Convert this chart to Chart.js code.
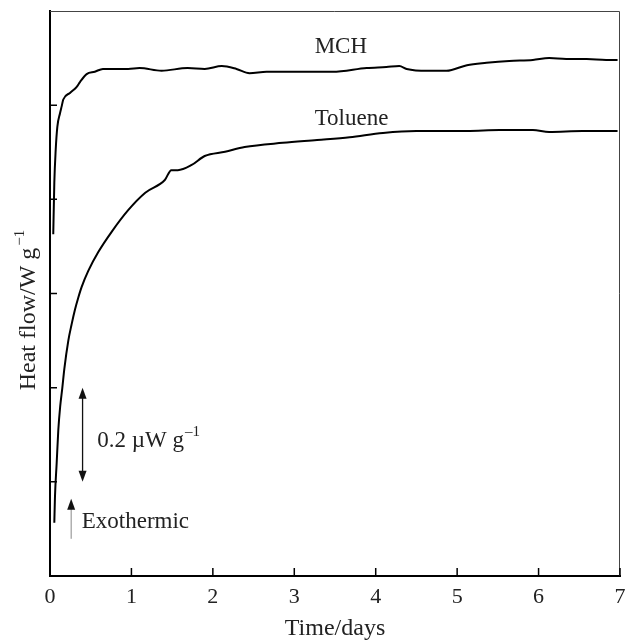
<!DOCTYPE html>
<html>
<head>
<meta charset="utf-8">
<script src="https://cdn.jsdelivr.net/npm/chart.js@4.4.1/dist/chart.umd.min.js"></script>
<style>
  html, body { margin: 0; padding: 0; background: #fff; }
  #grafico { display: block; }
</style>
</head>
<body>
<canvas id="grafico" width="627" height="641"></canvas>
<script>
//Dados (tempo em dias, fluxo em uW/g com origem arbitraria)
//MCH
const diasMCH = [0.040, 0.053, 0.070, 0.090, 0.123, 0.144, 0.163, 0.245, 0.328, 0.368, 0.45, 0.55, 0.65, 0.96, 1.10, 1.37, 1.69, 1.90, 2.11, 2.29, 2.45, 2.66, 3.07, 3.47, 3.89, 4.13, 4.29, 4.38, 4.63, 4.87, 5.12, 5.36, 5.64, 5.93, 6.13, 6.34, 6.59, 6.83, 6.97];
const fluxoMCH = [0.726, 0.835, 0.905, 0.954, 0.983, 0.998, 1.012, 1.026, 1.039, 1.049, 1.066, 1.071, 1.077, 1.077, 1.079, 1.073, 1.079, 1.077, 1.083, 1.077, 1.068, 1.071, 1.071, 1.071, 1.079, 1.081, 1.083, 1.077, 1.073, 1.073, 1.085, 1.090, 1.094, 1.096, 1.100, 1.098, 1.098, 1.096, 1.096];
//Tolueno
const diasTolueno = [0.053, 0.061, 0.082, 0.102, 0.125, 0.151, 0.176, 0.225, 0.266, 0.307, 0.347, 0.389, 0.47, 0.593, 0.757, 0.96, 1.17, 1.41, 1.49, 1.57, 1.74, 1.90, 2.15, 2.39, 2.86, 3.28, 3.68, 4.09, 4.50, 5.12, 5.52, 5.93, 6.13, 6.54, 6.97];
const fluxoTolueno = [0.113, 0.168, 0.240, 0.310, 0.360, 0.399, 0.440, 0.500, 0.535, 0.566, 0.591, 0.614, 0.648, 0.688, 0.731, 0.777, 0.814, 0.841, 0.862, 0.862, 0.873, 0.892, 0.901, 0.911, 0.920, 0.926, 0.932, 0.941, 0.945, 0.945, 0.947, 0.947, 0.943, 0.945, 0.945];

//Ticks dos eixos
const ticksX = [0, 1, 2, 3, 4, 5, 6, 7];
const ticksY = [0.2, 0.4, 0.6, 0.8, 1.0];

const FONTE = "'Liberation Serif', 'Times New Roman', serif";

function pontos(xs, ys) {
  return xs.map((v, i) => ({ x: v, y: ys[i] }));
}

//Desenha a ponta de uma seta (dir = -1 para cima, 1 para baixo)
function ponta(ctx, x, y, dir) {
  ctx.beginPath();
  ctx.moveTo(x, y);
  ctx.lineTo(x - 4, y - dir * 11);
  ctx.lineTo(x + 4, y - dir * 11);
  ctx.closePath();
  ctx.fill();
}

//Plugin com moldura, ticks internos, titulo do eixo y e anotacoes
const extras = {
  id: "extras",
  afterDraw(chart) {
    const { ctx, chartArea: a, scales: { x, y } } = chart;
    ctx.save();

    //moldura de cima e da direita
    ctx.strokeStyle = "#444";
    ctx.lineWidth = 1;
    ctx.beginPath();
    ctx.moveTo(a.left, a.top + 0.5);
    ctx.lineTo(a.right - 0.5, a.top + 0.5);
    ctx.lineTo(a.right - 0.5, a.bottom);
    ctx.stroke();

    //ticks para dentro
    ctx.strokeStyle = "#000";
    ctx.lineWidth = 1.5;
    ctx.beginPath();
    ticksX.forEach((v) => {
      const px = x.getPixelForValue(v);
      ctx.moveTo(px, a.bottom);
      ctx.lineTo(px, a.bottom - 8);
    });
    ticksY.forEach((v) => {
      const py = y.getPixelForValue(v);
      ctx.moveTo(a.left, py);
      ctx.lineTo(a.left + 7, py);
    });
    ctx.stroke();

    ctx.fillStyle = "#222";
    ctx.textBaseline = "alphabetic";
    ctx.textAlign = "left";

    //nomes das curvas
    ctx.font = "23px " + FONTE;
    ctx.fillText("MCH", x.getPixelForValue(3.25), y.getPixelForValue(1.111));
    ctx.fillText("Toluene", x.getPixelForValue(3.25), y.getPixelForValue(0.958));

    //escala de 0.2 uW/g
    const xs = x.getPixelForValue(0.40);
    const yTopo = y.getPixelForValue(0.40);
    const yBase = y.getPixelForValue(0.20);
    ctx.strokeStyle = "#111";
    ctx.lineWidth = 1.3;
    ctx.beginPath();
    ctx.moveTo(xs, yTopo + 6);
    ctx.lineTo(xs, yBase - 6);
    ctx.stroke();
    ctx.fillStyle = "#111";
    ponta(ctx, xs, yTopo, -1);
    ponta(ctx, xs, yBase, 1);

    ctx.fillStyle = "#222";
    ctx.font = "23px " + FONTE;
    const texto = "0.2 \u00b5W g";
    const tx = x.getPixelForValue(0.58);
    const ty = y.getPixelForValue(0.274);
    ctx.fillText(texto, tx, ty);
    const w = ctx.measureText(texto).width;
    ctx.font = "15px " + FONTE;
    ctx.fillText("\u20131", tx + w + 1, ty - 11);

    //seta exotermica
    const xe = x.getPixelForValue(0.26);
    const yeTopo = y.getPixelForValue(0.164);
    const yeBase = y.getPixelForValue(0.079);
    ctx.strokeStyle = "#888";
    ctx.lineWidth = 1;
    ctx.beginPath();
    ctx.moveTo(xe, yeTopo + 8);
    ctx.lineTo(xe, yeBase);
    ctx.stroke();
    ctx.fillStyle = "#111";
    ponta(ctx, xe, yeTopo, -1);

    ctx.fillStyle = "#222";
    ctx.font = "23px " + FONTE;
    ctx.fillText("Exothermic", x.getPixelForValue(0.39), y.getPixelForValue(0.102));

    //titulo do eixo y com expoente
    ctx.save();
    ctx.translate(35, 310);
    ctx.rotate(-Math.PI / 2);
    ctx.font = "24px " + FONTE;
    const principal = "Heat flow/W g";
    const wp = ctx.measureText(principal).width;
    ctx.font = "15px " + FONTE;
    const ws = ctx.measureText("\u22121").width;
    const inicio = -(wp + ws + 2) / 2;
    ctx.font = "24px " + FONTE;
    ctx.fillText(principal, inicio, 0);
    ctx.font = "15px " + FONTE;
    ctx.fillText("\u22121", inicio + wp + 2, -11);
    ctx.restore();

    ctx.restore();
  },
};

const ctxGrafico = document.getElementById("grafico").getContext("2d");

const grafico = new Chart(ctxGrafico, {
  type: "line",
  data: {
    datasets: [
      {
        label: "MCH",
        data: pontos(diasMCH, fluxoMCH),
        borderColor: "#000",
        borderWidth: 2,
        pointRadius: 0,
        cubicInterpolationMode: "monotone",
      },
      {
        label: "Toluene",
        data: pontos(diasTolueno, fluxoTolueno),
        borderColor: "#000",
        borderWidth: 2,
        pointRadius: 0,
        cubicInterpolationMode: "monotone",
      },
    ],
  },
  options: {
    responsive: false,
    animation: false,
    layout: { padding: { left: 0, right: 7, top: 11, bottom: 0 } },
    plugins: {
      legend: { display: false },
      tooltip: { enabled: false },
    },
    scales: {
      x: {
        type: "linear",
        min: 0,
        max: 7,
        grid: { display: false, drawTicks: false },
        border: { display: true, color: "#000", width: 2 },
        ticks: {
          stepSize: 1,
          padding: 8,
          color: "#222",
          font: { family: FONTE, size: 22 },
          maxRotation: 0,
        },
        title: {
          display: true,
          text: "Time/days",
          color: "#222",
          font: { family: FONTE, size: 24, lineHeight: 1 },
          padding: 0,
        },
        afterFit(scale) {
          scale.height = 65;
          //sem folga extra para o rotulo do ultimo tick
          scale.paddingLeft = 0;
          scale.paddingRight = 0;
        },
      },
      y: {
        type: "linear",
        min: 0,
        max: 1.2,
        grid: { display: false, drawTicks: false },
        border: { display: true, color: "#000", width: 2 },
        ticks: { display: false },
        afterFit(scale) {
          scale.width = 50;
          scale.paddingTop = 0;
          scale.paddingBottom = 0;
        },
      },
    },
  },
  plugins: [extras],
});
</script>
</body>
</html>
